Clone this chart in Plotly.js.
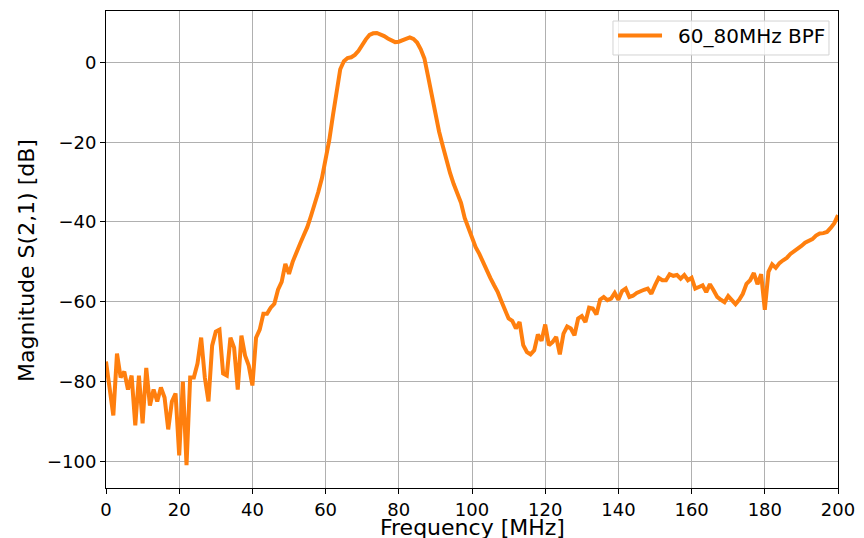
<!DOCTYPE html>
<html>
<head>
<meta charset="utf-8">
<script src="https://cdn.plot.ly/plotly-3.0.1.min.js"></script>
<style>
  html, body { margin: 0; padding: 0; background: #ffffff; }
  #chart { width: 864px; height: 538px; }
</style>
</head>
<body>
<div id="chart"></div>
<script>
// Measured transmission of the 60-80 MHz band-pass filter
const seriesName = '60_80MHz BPF';
const xTitle = 'Frequency [MHz]';
const yTitle = 'Magnitude S(2,1) [dB]';

const freqMHz = [
  0, 2, 3, 4, 5, 6, 7, 8, 9, 10, 11, 12, 13, 14, 15, 16, 17, 18, 19, 20,
  21, 22, 23, 24, 25, 26, 27, 28, 29, 30, 31, 32, 33, 34, 35, 36, 37, 38, 39, 40,
  41, 42, 43, 44, 45, 46, 47, 48, 49, 50, 51, 52, 53, 54, 55, 56, 57, 58, 59, 60,
  61, 62, 63, 64, 65, 66, 67, 68, 69, 70, 71, 72, 73, 74, 75, 76, 77, 78, 79, 80,
  81, 82, 83, 84, 85, 86, 87, 88, 89, 90, 91, 92, 93, 94, 95, 96, 97, 98, 99, 100,
  101, 102, 103, 104, 105, 106, 107, 108, 109, 110, 111, 112, 113, 114, 115, 116, 117, 118, 119, 120,
  121, 122, 123, 124, 125, 126, 127, 128, 129, 130, 131, 132, 133, 134, 135, 136, 137, 138, 139, 140,
  141, 142, 143, 144, 145, 146, 147, 148, 149, 150, 151, 152, 153, 154, 155, 156, 157, 158, 159, 160,
  161, 162, 163, 164, 165, 166, 167, 168, 169, 170, 171, 172, 173, 174, 175, 176, 177, 178, 179, 180,
  181, 182, 183, 184, 185, 186, 187, 188, 189, 190, 191, 192, 193, 194, 195, 196, 197, 198, 199, 200
];

const s21dB = [
  -75, -88.5, -73, -79, -77.5, -82, -78.5, -91, -78.5, -90.5, -76.6, -86, -82, -85, -81.5, -84, -92, -85, -83, -98.5,
  -80, -101, -79, -79, -75.5, -69, -79, -85, -71, -67.5, -67, -78, -78.5, -69, -71.5, -82, -68.5, -73.5, -76, -81,
  -69, -67, -63, -63, -61.5, -60.5, -57, -55, -50.5, -53, -50, -47.5, -45.5, -43.4, -41.3, -38.5, -35.7, -32.5, -29, -24.7,
  -19.5, -13.3, -7.3, -1.7, 0.3, 1.1, 1.3, 1.9, 2.9, 4.5, 5.8, 6.9, 7.3, 7.4, 7.1, 6.6, 6.0, 5.5, 5.1, 5.2,
  5.6, 6.1, 6.3, 5.9, 5.0, 3.3, 1.0, -3.5, -8.5, -13.5, -17.3, -20.9, -24.5, -27.7, -30.5, -33, -35.2, -39, -41.5, -44.3,
  -46.3, -48, -50.2, -52.1, -54, -55.8, -57.5, -59.8, -61.8, -64.2, -64.8, -66.7, -65.1, -70.9, -72.6, -73.2, -72.2, -68.2, -69.8, -65.7,
  -70.9, -70.1, -68.8, -73.2, -68, -66.2, -66.7, -68.4, -64.2, -63.6, -65.1, -61.5, -61.7, -63.2, -59.5, -58.8, -59.6, -59.2, -57.8, -59.5,
  -57.3, -56.7, -58.8, -58.5, -57.8, -57.3, -57, -56.7, -58, -55.9, -54, -54.6, -54.6, -53.1, -53.5, -53.3, -54.2, -53.3, -54.6, -54,
  -56.7, -56.3, -55.9, -57.6, -55.6, -57.1, -58.8, -59.5, -60.1, -58.6, -59.6, -60.6, -59.5, -58, -55.5, -54.6, -52.8, -55.6, -53.1, -62,
  -52.5, -50.6, -51.5, -50.3, -49.6, -49, -48, -47.4, -46.9, -46, -45.2, -44.8, -44.3, -43.4, -42.9, -42.8, -42.5, -41.5, -40.3, -38.3
];

const xTicks = [0, 20, 40, 60, 80, 100, 120, 140, 160, 180, 200];
const yTicks = [-100, -80, -60, -40, -20, 0];

const fontFamily = 'DejaVu Sans, sans-serif';
const lineColor = '#ff7f0e';

const traces = [{
  x: freqMHz,
  y: s21dB,
  type: 'scatter',
  mode: 'lines',
  name: seriesName,
  showlegend: false,
  line: { color: lineColor, width: 4 }
}];

const axisCommon = {
  showline: true,
  linecolor: '#000000',
  linewidth: 1,
  mirror: true,
  showgrid: true,
  gridcolor: '#b0b0b0',
  gridwidth: 1,
  zeroline: false,
  ticks: 'outside',
  ticklen: 5,
  tickwidth: 1,
  tickcolor: '#000000',
  tickfont: { family: fontFamily, size: 18, color: '#000000' },
  automargin: false
};

// Legend box drawn in paper coordinates (upper-right corner of the axes)
const legendBox = { x0: 0.6926, x1: 0.9877, y0: 0.9078, y1: 0.979 };
const legendRowY = 0.9486;

const layout = {
  width: 864,
  height: 538,
  margin: { l: 106, r: 26, t: 11, b: 50 },
  paper_bgcolor: '#ffffff',
  plot_bgcolor: '#ffffff',
  font: { family: fontFamily, color: '#000000' },
  showlegend: false,
  xaxis: Object.assign({}, axisCommon, {
    range: [0, 200],
    tickvals: xTicks,
    ticktext: xTicks.map(String)
  }),
  yaxis: Object.assign({}, axisCommon, {
    range: [-106.7, 12.9],
    tickvals: yTicks,
    ticktext: yTicks.map(v => v < 0 ? '\u2212' + Math.abs(v) : String(v))
  }),
  shapes: [
    {
      type: 'rect', xref: 'paper', yref: 'paper',
      x0: legendBox.x0, x1: legendBox.x1, y0: legendBox.y0, y1: legendBox.y1,
      fillcolor: 'rgba(255,255,255,0.8)',
      line: { color: '#d3d3d3', width: 1 }
    },
    {
      type: 'line', xref: 'paper', yref: 'paper',
      x0: 0.6995, x1: 0.7596, y0: legendRowY, y1: legendRowY,
      line: { color: lineColor, width: 4 }
    }
  ],
  annotations: [
    {
      text: seriesName, xref: 'paper', yref: 'paper',
      x: 0.7787, y: legendRowY, xanchor: 'left', yanchor: 'middle',
      showarrow: false,
      font: { family: fontFamily, size: 20, color: '#000000' }
    },
    {
      text: xTitle, xref: 'paper', yref: 'paper',
      x: 0.5, y: -0.0524, xanchor: 'center', yanchor: 'top',
      showarrow: false,
      font: { family: fontFamily, size: 22, color: '#000000' }
    },
    {
      text: yTitle, xref: 'paper', yref: 'paper',
      x: -0.1079, y: 0.476, xanchor: 'center', yanchor: 'middle',
      textangle: -90,
      showarrow: false,
      font: { family: fontFamily, size: 22, color: '#000000' }
    }
  ]
};

Plotly.newPlot('chart', traces, layout, { staticPlot: true, displayModeBar: false });
</script>
</body>
</html>
